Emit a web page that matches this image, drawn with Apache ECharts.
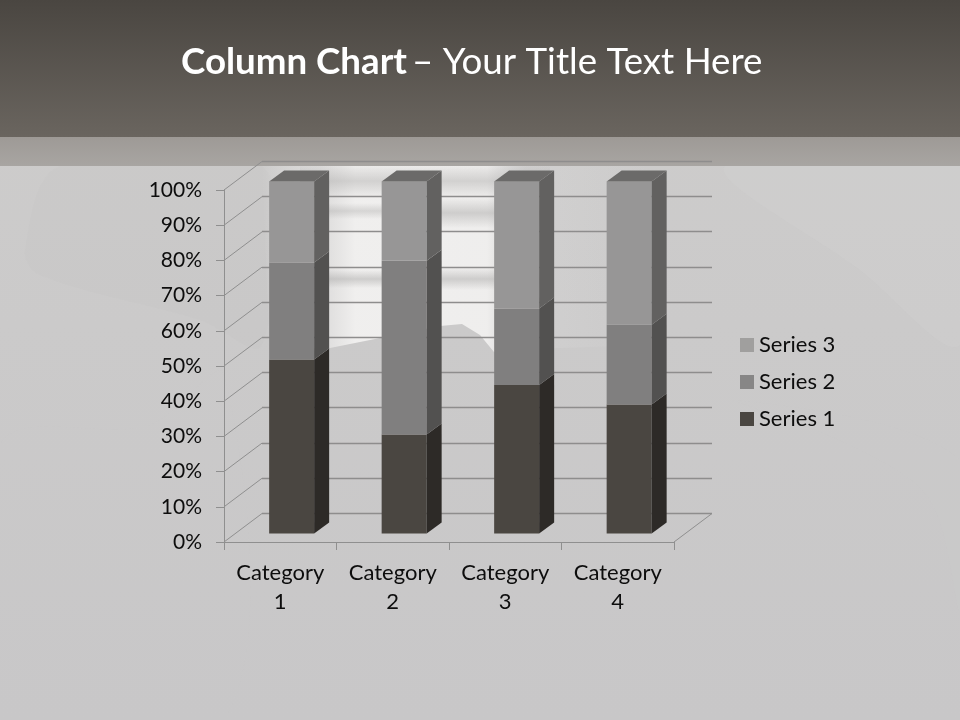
<!DOCTYPE html>
<html>
<head>
<meta charset="utf-8">
<style>html,body{margin:0;padding:0;background:#cbcaca}#c{width:960px;height:720px}</style>
<script src="https://cdn.jsdelivr.net/npm/echarts@6/dist/echarts.min.js"></script>
</head>
<body>
<div id="c"></div>
<script>
var categories = ['Category 1', 'Category 2', 'Category 3', 'Category 4'];
var series1 = [49.4, 28.1, 42.2, 36.6];
var series2 = [27.6, 49.4, 21.7, 22.7];
var series3 = [23.0, 22.5, 36.1, 40.7];
var ticks = [0, 10, 20, 30, 40, 50, 60, 70, 80, 90, 100];

var wall = [38, -28.5];      // depth of the chart box
var barShift = [11.4, -8.55]; // front face of a bar inside the box
var barDepth = [15, -11];    // depth of a bar

var looks = [
  { name: 'Series 1', values: series1, front: '#4a4641', side: '#2d2a27', legend: '#4a4641' },
  { name: 'Series 2', values: series2, front: '#807f7f', side: '#525150', legend: '#878686' },
  { name: 'Series 3', values: series3, front: '#979696', side: '#626160', top: '#6b6a69', legend: '#a09f9e' }
];

function stackData(idx) {
  return categories.map(function (c, i) {
    var start = 0;
    for (var k = 0; k < idx; k++) start += looks[k].values[i];
    return [i, start, start + looks[idx].values[i]];
  });
}

function barRenderer(look) {
  return function (params, api) {
    var cat = api.value(0);
    var a = api.coord([cat, api.value(1)]);
    var b = api.coord([cat, api.value(2)]);
    var w = api.size([1, 0])[0] * 0.4;
    var l = a[0] + barShift[0] - w / 2, r = l + w;
    var y0 = a[1] + barShift[1], y1 = b[1] + barShift[1];
    var dx = barDepth[0], dy = barDepth[1];
    var kids = [
      { type: 'rect', shape: { x: l, y: y1, width: w, height: y0 - y1 }, style: { fill: look.front } },
      { type: 'polygon', shape: { points: [[r, y0], [r + dx, y0 + dy], [r + dx, y1 + dy], [r, y1]] }, style: { fill: look.side } }
    ];
    if (look.top) {
      kids.push({ type: 'polygon', shape: { points: [[l, y1], [r, y1], [r + dx, y1 + dy], [l + dx, y1 + dy]] }, style: { fill: look.top } });
    }
    return { type: 'group', children: kids };
  };
}

function bgPoly(points, fill) {
  return { type: 'polygon', z: -9, silent: true, shape: { points: points, smooth: 0.35 }, style: { fill: fill } };
}
function lin(x, y, x2, y2, stops) {
  return { type: 'linear', x: x, y: y, x2: x2, y2: y2, colorStops: stops.map(function (s) { return { offset: s[0], color: s[1] }; }) };
}
function streak(x, y, w, h, alpha) {
  return { type: 'rect', z: -7, silent: true, shape: { x: x, y: y, width: w, height: h },
    style: { fill: lin(0, 0, 0, 1, [[0, 'rgba(165,164,163,0)'], [0.5, 'rgba(165,164,163,' + alpha + ')'], [1, 'rgba(165,164,163,0)']]) } };
}

var background = [
  { type: 'rect', z: -10, silent: true, shape: { x: 0, y: 0, width: 960, height: 720 },
    style: { fill: lin(0, 0, 0, 1, [[0, '#cecdcc'], [0.45, '#cbcaca'], [1, '#c8c7c8']]) } },
  // soft swooshes
  bgPoly([[60, 166], [25, 250], [40, 275], [200, 320], [262, 345], [262, 166]], 'rgba(192,191,191,0.16)'),
  bgPoly([[0, 445], [150, 425], [224, 375], [224, 720], [0, 720]], 'rgba(210,209,208,0.10)'),
  bgPoly([[725, 166], [860, 270], [960, 345], [960, 166]], 'rgba(212,211,210,0.25)'),
  bgPoly([[735, 400], [850, 445], [930, 500], [960, 610], [960, 460]], 'rgba(205,204,204,0.25)'),
  // brushed white patch behind the columns
  { type: 'polygon', z: -8, silent: true,
    shape: { points: [[262, 166], [650, 166], [650, 345], [500, 350], [494, 352], [480, 335], [462, 324], [440, 326], [380, 338], [330, 348], [270, 358]] },
    style: { fill: lin(0, 0, 1, 0, [[0, 'rgba(255,255,255,0)'], [0.15, 'rgba(240,239,238,0.45)'], [0.24, 'rgba(246,245,244,0.85)'], [0.58, 'rgba(245,244,243,0.85)'], [0.68, 'rgba(225,224,224,0.25)'], [1, 'rgba(225,225,225,0)']]) } },
  streak(300, 164, 250, 34, 0.4),
  streak(328, 203, 60, 16, 0.35),
  streak(440, 198, 110, 30, 0.45),
  streak(328, 270, 60, 18, 0.45),
  streak(440, 268, 110, 22, 0.45),
  // header and band
  { type: 'rect', z: -6, silent: true, shape: { x: 0, y: 0, width: 960, height: 137 },
    style: { fill: lin(0, 0, 0, 1, [[0, '#4a4641'], [1, '#6a655f']]) } },
  { type: 'rect', z: -6, silent: true, shape: { x: 0, y: 137, width: 960, height: 29 },
    style: { fill: lin(0, 0, 0, 1, [[0, '#9e9a96'], [1, '#a8a5a2']]) } }
];

var seriesList = looks.map(function (look, i) {
  return {
    type: 'custom', name: look.name, xAxisIndex: 0, yAxisIndex: 0, z: 5,
    itemStyle: { color: look.legend },
    renderItem: barRenderer(look), data: stackData(i), encode: { x: 0, y: [1, 2] }
  };
});

seriesList.push({
  type: 'custom', name: 'wall edges', xAxisIndex: 0, yAxisIndex: 0, z: 3, silent: true,
  data: ticks.map(function (t) { return [0, t]; }),
  renderItem: function (params, api) {
    var x = params.coordSys.x, y = api.coord([0, api.value(1)])[1];
    return { type: 'line', shape: { x1: x, y1: y, x2: x + wall[0], y2: y + wall[1] },
      style: { stroke: '#8f8f8f', lineWidth: 1 } };
  }
});
seriesList.push({
  type: 'custom', name: 'floor edge', xAxisIndex: 0, yAxisIndex: 0, z: 3, silent: true,
  data: [[0, 0]],
  renderItem: function (params, api) {
    var x = params.coordSys.x + params.coordSys.width, y = api.coord([0, 0])[1];
    return { type: 'line', shape: { x1: x, y1: y, x2: x + wall[0], y2: y + wall[1] },
      style: { stroke: '#8f8f8f', lineWidth: 1 } };
  }
});

var axisGrey = { color: '#8f8f8f', width: 1 };
var font = 'Lato, "Open Sans", sans-serif';

var chart = echarts.init(document.getElementById('c'), null, { renderer: 'canvas' });
chart.setOption({
  animation: false,
  graphic: { elements: background },
  title: {
    left: 176, top: 39,
    text: '{b|Column Chart} {n|– Your Title Text Here}',
    textStyle: { rich: {
      b: { fontFamily: font, fontSize: 36.7, fontWeight: 'bold', color: '#fff' },
      n: { fontFamily: font, fontSize: 36.7, fontWeight: 'normal', color: '#fff' }
    } }
  },
  legend: {
    orient: 'vertical', left: 735, top: 329, itemWidth: 14, itemHeight: 14, itemGap: 15,
    icon: 'rect', selectedMode: false,
    textStyle: { fontFamily: font, fontSize: 22, lineHeight: 20, color: '#0d0d0d' },
    data: [
      { name: 'Series 3', itemStyle: { color: looks[2].legend } },
      { name: 'Series 2', itemStyle: { color: looks[1].legend } },
      { name: 'Series 1', itemStyle: { color: looks[0].legend } }
    ]
  },
  grid: [
    { left: 224, top: 190, width: 450, height: 352 },
    { left: 262, top: 161.3, width: 450, height: 352 }
  ],
  xAxis: [
    { gridIndex: 0, type: 'category', data: categories,
      axisLine: { show: true, lineStyle: axisGrey },
      axisTick: { show: true, length: 8, lineStyle: axisGrey },
      axisLabel: { fontFamily: font, fontSize: 22, lineHeight: 29, color: '#0d0d0d', margin: 16, interval: 0,
        formatter: function (v) { return v.replace(' ', '\n'); } } },
    { gridIndex: 1, type: 'category', data: categories, show: false }
  ],
  yAxis: [
    { gridIndex: 0, type: 'value', min: 0, max: 100, interval: 10,
      axisLine: { show: true, lineStyle: axisGrey },
      axisTick: { show: true, length: 8, lineStyle: axisGrey },
      splitLine: { show: false },
      axisLabel: { fontFamily: font, fontSize: 21, color: '#0d0d0d', margin: 22, padding: [2, 0, 0, 0], formatter: '{value}%' } },
    { gridIndex: 1, type: 'value', min: 0, max: 100, interval: 10,
      axisLine: { show: false }, axisTick: { show: false }, axisLabel: { show: false },
      splitLine: { show: true, lineStyle: { color: '#8e8d8d', width: 1.3 } } }
  ],
  series: seriesList
});
</script>
</body>
</html>
